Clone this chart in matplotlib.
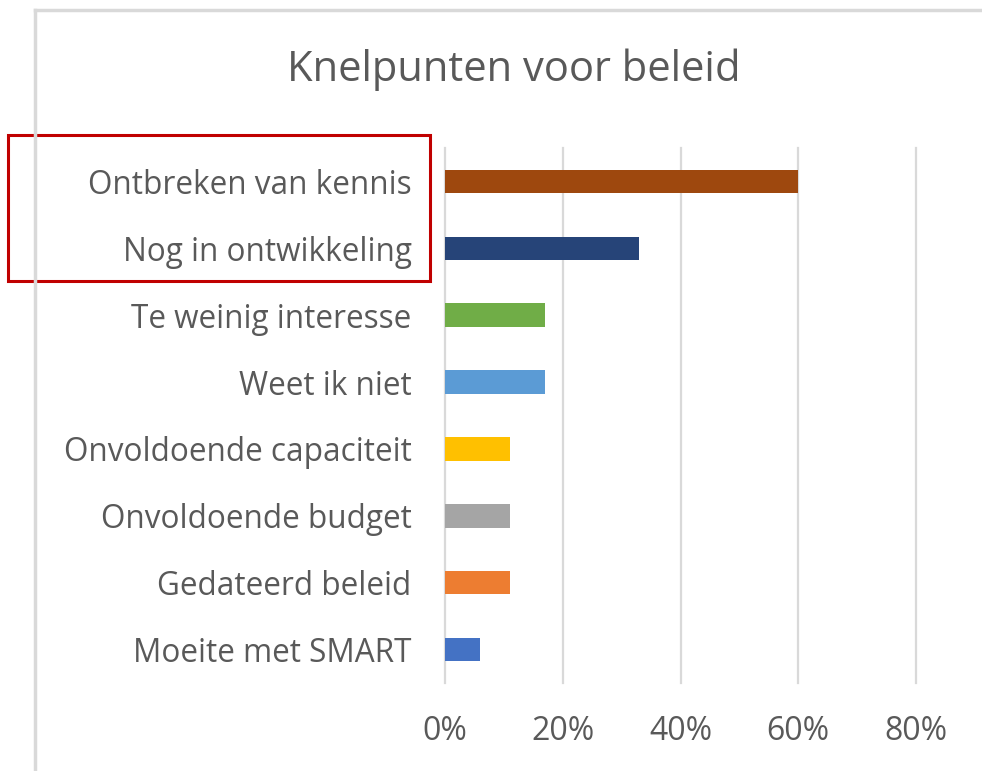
import matplotlib.pyplot as plt
from matplotlib.patches import Rectangle
from matplotlib.lines import Line2D

# data, top to bottom as shown in the chart
categories = ["Ontbreken van kennis", "Nog in ontwikkeling", "Te weinig interesse",
              "Weet ik niet", "Onvoldoende capaciteit", "Onvoldoende budget",
              "Gedateerd beleid", "Moeite met SMART"]
values = [60, 33, 17, 17, 11, 11, 11, 6]
bar_colors = ["#9E480E", "#264478", "#70AD47", "#5B9BD5",
              "#FFC000", "#A5A5A5", "#ED7D31", "#4472C4"]
xticks = [0, 20, 40, 60, 80]
xtick_labels = ["0%", "20%", "40%", "60%", "80%"]

plt.rcParams['font.family'] = ['Open Sans', 'DejaVu Sans']
grey = "#595959"

fig = plt.figure(figsize=(9.82, 7.71), dpi=100)
ax = fig.add_axes([445/982, 1-683/771, (916-445)/982, (683-148)/771])

ypos = list(range(len(categories)))
ax.barh(ypos, values, height=0.35, color=bar_colors, zorder=3)
ax.set_ylim(len(categories)-0.5, -0.5)
ax.set_xlim(0, 80)

ax.set_yticks(ypos)
ax.set_yticklabels(categories, fontsize=22.7, color=grey)
ax.set_xticks(xticks)
ax.set_xticklabels(xtick_labels, fontsize=23, color=grey)
ax.tick_params(axis='both', length=0)
ax.tick_params(axis='y', pad=24)
ax.tick_params(axis='x', pad=23)

for x in xticks:
    ax.axvline(x, color="#D9D9D9", lw=1.6, zorder=1, clip_on=False)
for s in ax.spines.values():
    s.set_visible(False)

fig.text(514/982, 1-70/771, "Knelpunten voor beleid", fontsize=30, color=grey,
         ha='center', va='center')

# chart frame (only top and left visible)
fig.add_artist(Line2D([35/982, 1.0], [1-10/771, 1-10/771], color="#D9D9D9", lw=2.5))
fig.add_artist(Line2D([35/982, 35/982], [1-10/771, 0], color="#D9D9D9", lw=2.5))

# red highlight box
fig.add_artist(Rectangle((8/982, 1-281/771), (430-8)/982, (281-135)/771,
                         fill=False, edgecolor="#C00000", lw=2.2))

fig.savefig("out.png", dpi=100)
